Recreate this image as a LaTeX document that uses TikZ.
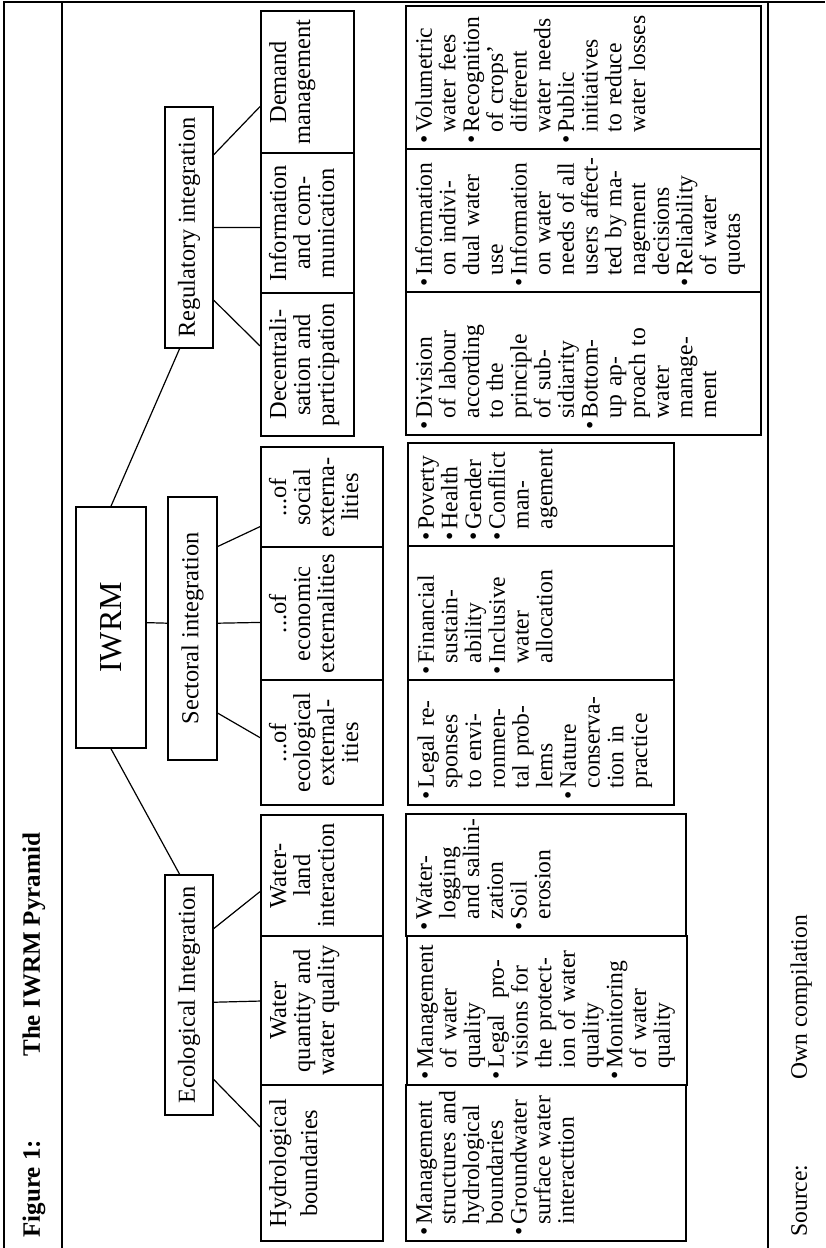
\documentclass[tikz,border=0pt]{standalone}
\usepackage{fontspec}
\setmainfont{Liberation Serif}
\usepackage{tikz}
\usetikzlibrary{positioning}
\usetikzlibrary{calc}
\newcommand\cellfont{\fontsize{12.2}{12}\selectfont}
\newcommand\itemfont{\fontsize{11.8}{11.85}\selectfont}
\newcommand\iwrmfont{\fontsize{16}{19}\selectfont}
\newcommand\titlefont{\fontsize{12.5}{14}\selectfont\bfseries}
\newcommand\srcfont{\fontsize{11.8}{13}\selectfont}
\newcommand\bitem{\hspace*{3pt}\makebox[5.5pt][l]{\textbullet}}
\newcommand\bcont{\hspace*{8.5pt}}
\tikzset{top node/.style={draw,line width=0.8pt,minimum height=24pt,inner sep=0pt,font=\cellfont},
cell/.style={draw,line width=0.8pt,anchor=north west,inner sep=0pt,align=center,font=\cellfont,text height=12.7pt},
bul node/.style={draw,line width=0.8pt,anchor=north west,inner sep=0pt,align=left,font=\itemfont,text height=13pt},
link/.style={line width=0.6pt},
frame/.style={line width=1.2pt},}
\begin{document}
\begin{tikzpicture}[x=0.5pt,y=0.5pt]
\begin{scope}[rotate=90,transform shape]
	\useasboundingbox (0,0) rectangle (1248,825);
	% table frame
	\draw[frame] (0,821) -- (1246,821) -- (1246,0);
	\draw[frame] (0,763) -- (1246,763);
	\draw[frame] (0,57) -- (1246,57);
	\node[anchor=base west,inner sep=0pt,font=\titlefont] (fig) at (10,785) {Figure 1:};
	\node[anchor=base west,inner sep=0pt,font=\titlefont] (ttl) at (191,785) {The IWRM Pyramid};
	\node[anchor=base west,inner sep=0pt,font=\srcfont] (src) at (11,18) {Source:};
	\node[anchor=base west,inner sep=0pt,font=\srcfont] (own) at (168,18) {Own compilation};

	% pyramid
	\node[top node,minimum width=120.5pt,minimum height=35pt,font=\iwrmfont] (iwrm) at (620.5,714) {IWRM};
	\node[top node,minimum width=120.5pt] (reg) at (1020.5,636) {Regulatory integration};
	\node[top node,minimum width=131.5pt,minimum height=24.5pt] (sect) at (619.5,632.5) {Sectoral integration};
	\node[top node,minimum width=120pt] (eco) at (253,636) {Ecological Integration};

	\node[cell,text width=71.5pt,text depth=33.8pt] (dec) at (811,565) {Decentrali-\\sation and\\participation};
	\node[cell,text width=70pt,text depth=33.8pt] (info) at (954,565) {Information\\and com-\\munication};
	\node[cell,text width=71pt,text depth=33.8pt] (dem) at (1094,565) {Demand\\management};
	\node[cell,text width=50pt,text depth=48.3pt] (soc) at (700,565) {...of\\social\\externa-\\lities};
	\node[cell,text width=66.5pt,text depth=48.3pt] (econ) at (567,565) {...of\\economic\\externalities};
	\node[cell,text width=62.5pt,text depth=48.3pt] (ecx) at (442,565) {...of\\ecological\\external-\\ities};
	\node[cell,text width=60.5pt,text depth=48.3pt] (wland) at (311,565) {Water-\\land\\interaction};
	\node[cell,text width=74.5pt,text depth=48.3pt] (wqty) at (162,565) {Water\\quantity and\\water quality};
	\node[cell,text width=78pt,text depth=48.3pt] (hydro) at (6,565) {Hydrological\\[3.5pt]boundaries};

	\node[bul node,text width=71.5pt,text depth=164.5pt] (divb) at (812,420) {\bitem Division\\\bcont of labour\\\bcont according\\\bcont to the\\\bcont principle\\\bcont of sub-\\\bcont sidiarity\\\bitem Bottom-\\\bcont up ap-\\\bcont proach to\\\bcont water\\\bcont manage-\\\bcont ment};
	\node[bul node,text width=71.5pt,text depth=164.5pt] (infob) at (955,420) {\bitem Information\\\bcont on indivi-\\\bcont dual water\\\bcont use\\\bitem Information\\\bcont on water\\\bcont needs of all\\\bcont users affect-\\\bcont ted by ma-\\\bcont nagement\\\bcont decisions\\\bitem Reliability\\\bcont of water\\\bcont quotas};
	\node[bul node,text width=71.5pt,text depth=164.5pt] (volb) at (1098,420) {\bitem Volumetric\\\bcont water fees\\\bitem Recognition\\\bcont of crops’\\\bcont different\\\bcont water needs\\\bitem Public\\\bcont initiatives\\\bcont to reduce\\\bcont water losses};
	\node[bul node,text width=51.5pt,text depth=120pt] (socb) at (701,418) {\bitem Poverty\\\bitem Health\\\bitem Gender\\\bitem Conflict\\\bcont man-\\\bcont agement};
	\node[bul node,text width=67pt,text depth=120pt] (econb) at (567,418) {\bitem Financial\\\bcont sustain-\\\bcont ability\\\bitem Inclusive\\\bcont water\\\bcont allocation};
	\node[bul node,text width=62.5pt,text depth=120pt] (ecxb) at (442,418) {\bitem Legal re-\\\bcont sponses\\\bcont to envi-\\\bcont ronmen-\\\bcont tal prob-\\\bcont lems\\\bitem Nature\\\bcont conserva-\\\bcont tion in\\\bcont practice};
	\node[bul node,text width=61pt,text depth=127pt] (wlb) at (311,420) {\bitem Water-\\\bcont logging\\\bcont and salini-\\\bcont zation\\\bitem Soil\\\bcont erosion};
	\node[bul node,text width=74.5pt,text depth=127pt] (wqb) at (162,419) {\bitem Management\\\bcont of water\\\bcont quality\\\bitem Legal\ \ pro-\\\bcont visions for\\\bcont the protect-\\\bcont ion of water\\\bcont quality\\\bitem Monitoring\\\bcont of water\\\bcont quality};
	\node[bul node,text width=78pt,text depth=127pt] (hyb) at (6,420) {\bitem Management\\\bcont structures and\\\bcont hydrological\\\bcont boundaries\\\bitem Groundwater\\\bcont surface water\\\bcont interacttion};

	\path[draw,link]
	(iwrm.east) edge ($(reg.south west)!0.69!(reg.north west)$)
	(iwrm.west) edge ($(eco.south east)!0.69!(eco.north east)$)
	($(iwrm.south west)!0.52!(iwrm.south east)$) edge ($(sect.north west)!0.52!(sect.north east)$)
	($(reg.south west)!0.2!(reg.south east)$) edge ($(dec.north west)!0.63!(dec.north east)$)
	(reg.south) edge ($(info.north west)!0.47!(info.north east)$)
	($(reg.south west)!0.8!(reg.south east)$) edge ($(dem.north west)!0.33!(dem.north east)$)
	($(sect.south west)!0.18!(sect.south east)$) edge ($(ecx.north west)!0.54!(ecx.north east)$)
	($(sect.south west)!0.52!(sect.south east)$) edge ($(econ.north west)!0.435!(econ.north east)$)
	($(sect.south west)!0.81!(sect.south east)$) edge ($(soc.north west)!0.21!(soc.north east)$)
	($(eco.south west)!0.15!(eco.south east)$) edge ($(hydro.north west)!0.73!(hydro.north east)$)
	($(eco.south west)!0.47!(eco.south east)$) edge ($(wqty.north west)!0.564!(wqty.north east)$)
	($(eco.south west)!0.775!(eco.south east)$) edge ($(wland.north west)!0.37!(wland.north east)$);
\end{scope}
\end{tikzpicture}
\end{document}
